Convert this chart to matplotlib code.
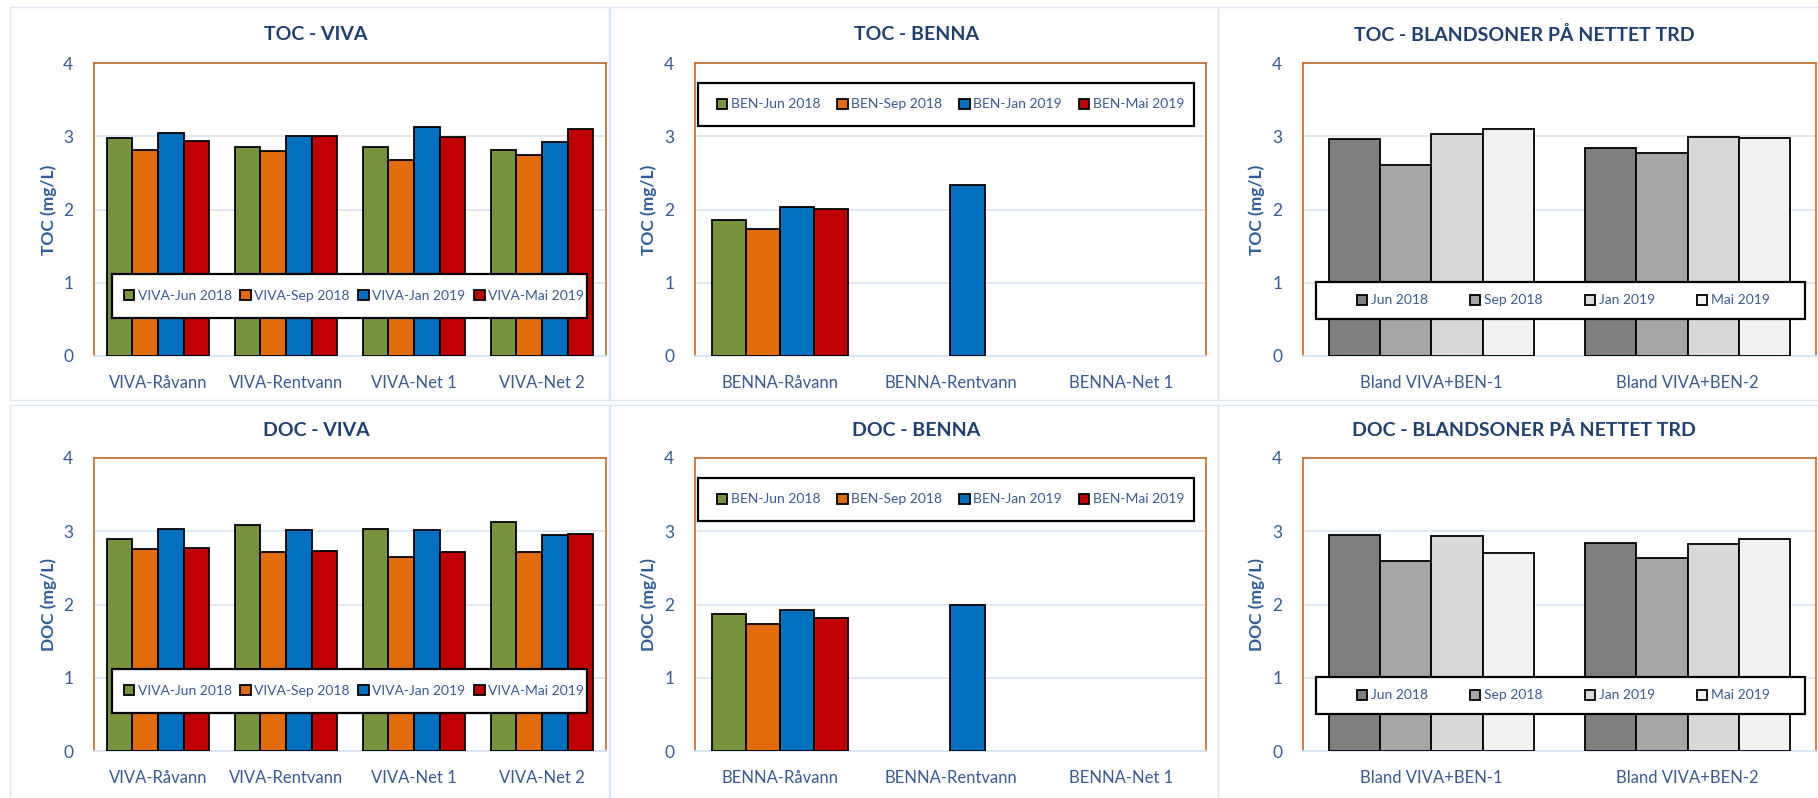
import numpy as np
import matplotlib.pyplot as plt
from matplotlib.patches import Rectangle

plt.rcParams['font.family'] = ['Lato', 'DejaVu Sans']

# categories
viva_cats = ['VIVA-Råvann', 'VIVA-Rentvann', 'VIVA-Net 1', 'VIVA-Net 2']
benna_cats = ['BENNA-Råvann', 'BENNA-Rentvann', 'BENNA-Net 1']
bland_cats = ['Bland VIVA+BEN-1', 'Bland VIVA+BEN-2']

periods = ['Jun 2018', 'Sep 2018', 'Jan 2019', 'Mai 2019']
viva_labels = ['VIVA-' + p for p in periods]
benna_labels = ['BEN-' + p for p in periods]
bland_labels = periods

# TOC values (mg/L), one list per period
toc_viva = [
    [2.98, 2.85, 2.86, 2.81],
    [2.81, 2.80, 2.68, 2.74],
    [3.05, 3.01, 3.13, 2.92],
    [2.93, 3.01, 2.99, 3.10],
]
toc_benna = [
    [1.86, np.nan, np.nan],
    [1.74, np.nan, np.nan],
    [2.04, 2.34, np.nan],
    [2.01, np.nan, np.nan],
]
toc_bland = [
    [2.96, 2.84],
    [2.61, 2.77],
    [3.03, 2.99],
    [3.10, 2.98],
]

# DOC values (mg/L)
doc_viva = [
    [2.90, 3.09, 3.03, 3.12],
    [2.76, 2.72, 2.65, 2.72],
    [3.03, 3.02, 3.02, 2.95],
    [2.77, 2.73, 2.71, 2.96],
]
doc_benna = [
    [1.87, np.nan, np.nan],
    [1.73, np.nan, np.nan],
    [1.93, 1.99, np.nan],
    [1.81, np.nan, np.nan],
]
doc_bland = [
    [2.95, 2.84],
    [2.60, 2.63],
    [2.94, 2.82],
    [2.70, 2.90],
]

colour_cols = ['#77933C', '#E36C09', '#0070C0', '#C00000']
grey_cols = ['#7F7F7F', '#A6A6A6', '#D9D9D9', '#F2F2F2']

title_col = '#1F3F6E'
tick_col = '#3A5A8C'
ylab_col = '#2E5C96'
frame_col = '#C26A28'
grid_col = '#D9E4F3'

fig = plt.figure(figsize=(18.18, 7.98), dpi=100)

# light panel borders (chart areas)
for (x0, y0, x1, y1) in [(10, 7, 609, 400), (610, 7, 1218, 400), (1218, 7, 1818, 400),
                         (10, 405, 609, 798), (610, 405, 1218, 798), (1218, 405, 1818, 798)]:
    fig.patches.append(Rectangle((x0 / 1818, 1 - y1 / 798), (x1 - x0) / 1818, (y1 - y0) / 798,
                                 transform=fig.transFigure, fill=False,
                                 edgecolor='#DCE6F2', lw=1.0))

cols_left = [94, 695, 1303]
cols_width = [512, 511, 513]
rows_bottom = [356, 751]
title_x = [316, 916, 1524]
title_y = [35, 430]
ylab_x = [57, 657, 1265]

# legend box (x0, y0, x1, y1) and inner entry span (x0, x1), axes fractions
viva_leg = ((0.035, 0.130, 0.963, 0.280), (0.058, 0.957))
benna_leg = ((0.006, 0.785, 0.977, 0.932), (0.043, 0.957))
bland_leg = ((0.025, 0.126, 0.979, 0.253), (0.105, 0.910))

panels = [
    ('TOC - VIVA', 'TOC (mg/L)', viva_cats, toc_viva, viva_labels, colour_cols, viva_leg),
    ('TOC - BENNA', 'TOC (mg/L)', benna_cats, toc_benna, benna_labels, colour_cols, benna_leg),
    ('TOC - BLANDSONER PÅ NETTET TRD', 'TOC (mg/L)', bland_cats, toc_bland, bland_labels, grey_cols, bland_leg),
    ('DOC - VIVA', 'DOC (mg/L)', viva_cats, doc_viva, viva_labels, colour_cols, viva_leg),
    ('DOC - BENNA', 'DOC (mg/L)', benna_cats, doc_benna, benna_labels, colour_cols, benna_leg),
    ('DOC - BLANDSONER PÅ NETTET TRD', 'DOC (mg/L)', bland_cats, doc_bland, bland_labels, grey_cols, bland_leg),
]

for i, (title, ylab, cats, vals, labels, cols, leg_pos) in enumerate(panels):
    r, c = divmod(i, 3)
    left = cols_left[c] / 1818
    bottom = 1 - rows_bottom[r] / 798
    ax = fig.add_axes([left, bottom, cols_width[c] / 1818, 293 / 798])

    x = np.arange(len(cats))
    w = 0.2
    for k in range(4):
        ax.bar(x + (k - 1.5) * w, vals[k], w, color=cols[k], edgecolor='black',
               linewidth=1.3, label=labels[k], zorder=3)

    ax.set_xlim(-0.5, len(cats) - 0.5)
    ax.set_ylim(0, 4)
    ax.set_yticks([0, 1, 2, 3, 4])
    ax.set_xticks(x)
    ax.set_xticklabels(cats)
    ax.grid(axis='y', color=grid_col, lw=1.2, zorder=0)
    ax.tick_params(axis='both', length=0, colors=tick_col, labelsize=12)
    ax.tick_params(axis='x', pad=14, labelsize=12)
    ax.tick_params(axis='y', pad=15, labelsize=12.5)
    for s in ['left', 'right', 'top']:
        ax.spines[s].set_color(frame_col)
        ax.spines[s].set_linewidth(1.2)
    ax.spines['bottom'].set_color(grid_col)
    ax.spines['bottom'].set_linewidth(1.3)

    ax.set_ylabel(ylab, fontsize=12.5, fontweight='bold', color=ylab_col)
    ax.yaxis.set_label_coords((ylab_x[c] - cols_left[c]) / cols_width[c], 0.5)

    fig.text(title_x[c] / 1818, 1 - title_y[r] / 798, title, ha='center', va='center',
             fontsize=14, fontweight='bold', color=title_col)

    (bx0, by0, bx1, by1), (ix0, ix1) = leg_pos
    ax.add_patch(Rectangle((bx0, by0), bx1 - bx0, by1 - by0, transform=ax.transAxes,
                           facecolor='white', edgecolor='black', lw=1.6, zorder=4,
                           clip_on=False))
    leg = ax.legend(loc='center', bbox_to_anchor=(ix0, by0, ix1 - ix0, by1 - by0),
                    mode='expand', ncol=4, fontsize=10, frameon=False,
                    handlelength=0.75, handleheight=0.75, handletextpad=0.25,
                    columnspacing=0.5, borderpad=0, borderaxespad=0,
                    labelcolor=tick_col)
    leg.set_zorder(5)

fig.savefig('out.png', dpi=100)
